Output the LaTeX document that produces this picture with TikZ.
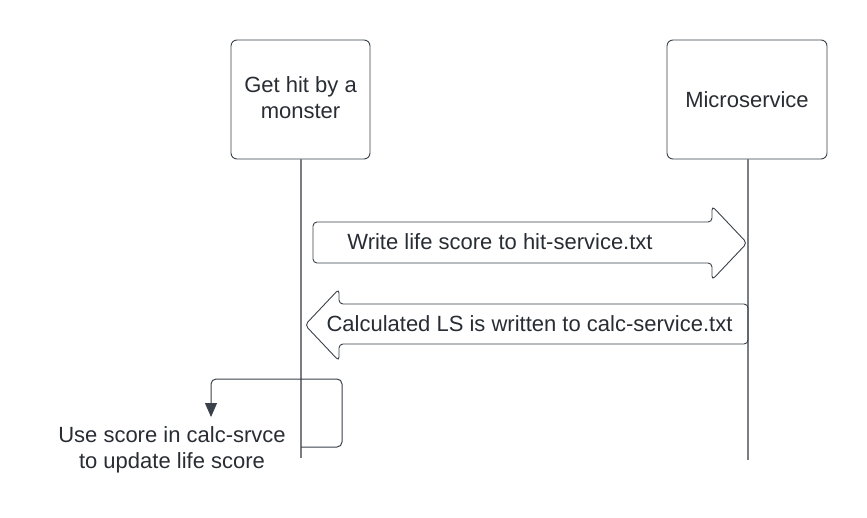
\documentclass[tikz,border=0pt]{standalone}
\usepackage{fontspec}
\setmainfont{Liberation Sans}
\usetikzlibrary{arrows.meta}
\definecolor{txt}{HTML}{282C33}
\definecolor{edge}{HTML}{3A414A}
\definecolor{life}{HTML}{7A7D82}
\begin{document}
\begin{tikzpicture}[x=1pt,y=-1pt,
  lbl/.style={text=txt,font=\fontsize{22}{26}\selectfont,inner sep=0pt,align=center},
  actor/.style={draw=edge,line width=0.9pt,rounded corners=6pt},
  lifeln/.style={draw=life,line width=1.1pt},
  bigarrow/.style={draw=edge,line width=0.9pt,rounded corners=4pt},
  selfln/.style={draw=edge,line width=1pt,rounded corners=5pt}]
\useasboundingbox (0,0) rectangle (867,517);
% actors
\node[actor,minimum width=139pt,minimum height=119pt,inner sep=0pt] (a) at (300.5,99.5) {};
\node[lbl] (at) at (300.5,97.5) {Get hit by a\\monster};
\node[actor,minimum width=160pt,minimum height=119pt,inner sep=0pt] (b) at (747,99.5) {};
\node[lbl] (bt) at (747,100) {Microservice};
% lifelines
\coordinate (aend) at (301,458);
\coordinate (bend) at (748,460);
\draw[lifeln] (a.south -| aend) -- (aend);
\draw[lifeln] (b.south -| bend) -- (bend);
% arrow 1
\draw[bigarrow] (313,222) -- (712,222) -- (712,206) -- (747,243) -- (712,280) -- (712,263) -- (313,263) -- cycle;
\node[lbl] (m1) at (500,242) {Write life score to hit-service.txt};
% arrow 2
\draw[bigarrow] (748,304) -- (339,304) -- (339,289) -- (305,325) -- (339,361) -- (339,344) -- (748,344) -- cycle;
\node[lbl] (m2) at (529.5,324) {Calculated LS is written to calc-service.txt};
% self loop
\coordinate (s1) at (301,379);
\coordinate (s2) at (301,447);
\coordinate (s3) at (211,417);
\draw[selfln] (s1) -- (342,379) -- (342,447) -- (s2);
\draw[selfln,-{Triangle[length=14pt,width=12pt]}] (s1) -- (211,379) -- (s3);
\node[lbl] (note) at (172,450) {Use score in calc-srvce\\to update life score};
\end{tikzpicture}
\end{document}
